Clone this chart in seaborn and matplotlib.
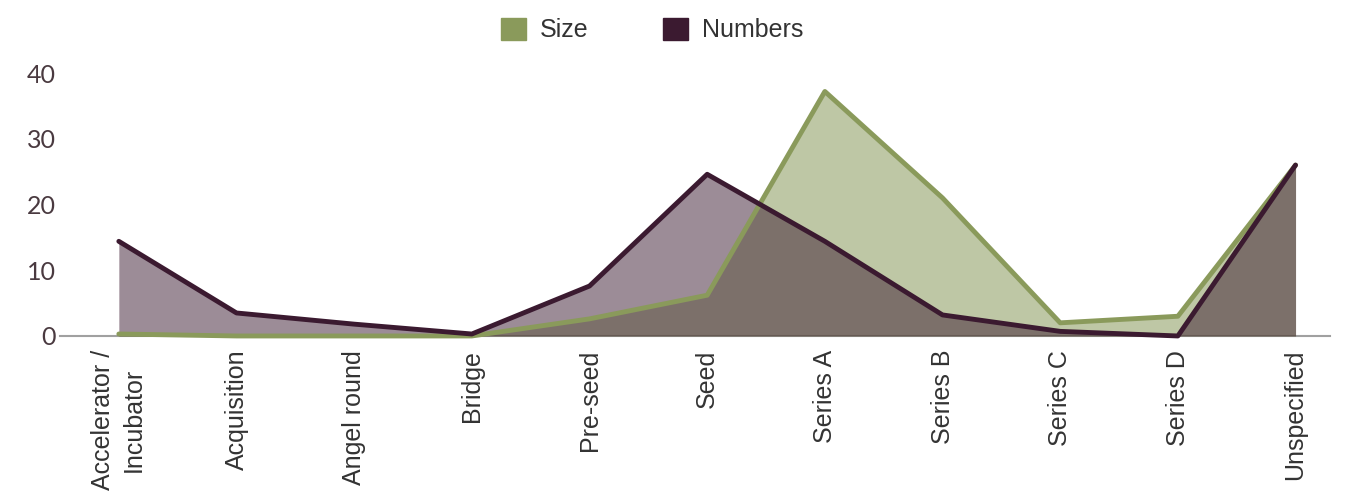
import numpy as np
import pandas as pd
import matplotlib
matplotlib.use("Agg")
import matplotlib.pyplot as plt
from matplotlib.patches import Patch
import seaborn as sns

stages = ['Accelerator /\nIncubator', 'Acquisition', 'Angel round', 'Bridge', 'Pre-seed',
          'Seed', 'Series A', 'Series B', 'Series C', 'Series D', 'Unspecified']
size_vals = [0.3, 0.0, 0.0, 0.0, 2.6, 6.2, 37.2, 21.0, 2.0, 3.0, 26.0]
number_vals = [14.4, 3.5, 1.8, 0.3, 7.6, 24.6, 14.4, 3.2, 0.7, 0.0, 26.0]

GREEN = '#8a9a5b'
PURPLE = '#3b1a30'

sns.set_style('white')
plt.rcParams['font.family'] = ['Liberation Sans', 'DejaVu Sans']

x = np.arange(len(stages))
df = pd.DataFrame({'x': np.tile(x, 2),
                   'value': size_vals + number_vals,
                   'series': ['Size'] * len(x) + ['Numbers'] * len(x)})

fig = plt.figure(figsize=(13.45, 4.97), dpi=100)
ax = fig.add_axes([0.0446, 0.324, 0.944, 0.529])

# green first, then purple on top so the overlap darkens
ax.fill_between(x, size_vals, color=GREEN, alpha=0.55, lw=0, clip_on=False)
sns.lineplot(data=df[df.series == 'Size'], x='x', y='value', color=GREEN, lw=3.5,
             ax=ax, legend=False, clip_on=False)
ax.fill_between(x, number_vals, color=PURPLE, alpha=0.5, lw=0, clip_on=False)
sns.lineplot(data=df[df.series == 'Numbers'], x='x', y='value', color=PURPLE, lw=3.5,
             ax=ax, legend=False, clip_on=False)

ax.set_xlim(-0.5, 10.29)
ax.set_ylim(0, 40)
ax.set_yticks([0, 10, 20, 30, 40])
ax.set_yticklabels([0, 10, 20, 30, 40], family=['Lato', 'DejaVu Sans'])
ax.set_xticks(x)
ax.set_xticklabels(stages, rotation=90, fontsize=18, color='#333333', linespacing=1.35)
ax.tick_params(axis='y', labelsize=18, labelcolor='#4a3a40', length=0, pad=3)
ax.tick_params(axis='x', length=0, pad=10)
ax.set_xlabel('')
ax.set_ylabel('')
for s in ['top', 'right', 'left']:
    ax.spines[s].set_visible(False)
ax.spines['bottom'].set_color('#a0a0a0')
ax.spines['bottom'].set_linewidth(1.5)
ax.spines['bottom'].set_zorder(0)

handles = [Patch(color=GREEN, label='Size'), Patch(color=PURPLE, label='Numbers')]
fig.legend(handles=handles, loc='upper center', bbox_to_anchor=(0.485, 1.01), ncol=2,
           frameon=False, fontsize=18, handlelength=1.0, handleheight=1.0,
           columnspacing=3.0, handletextpad=0.55, labelcolor='#333333')

fig.savefig('out.png', dpi=100)
